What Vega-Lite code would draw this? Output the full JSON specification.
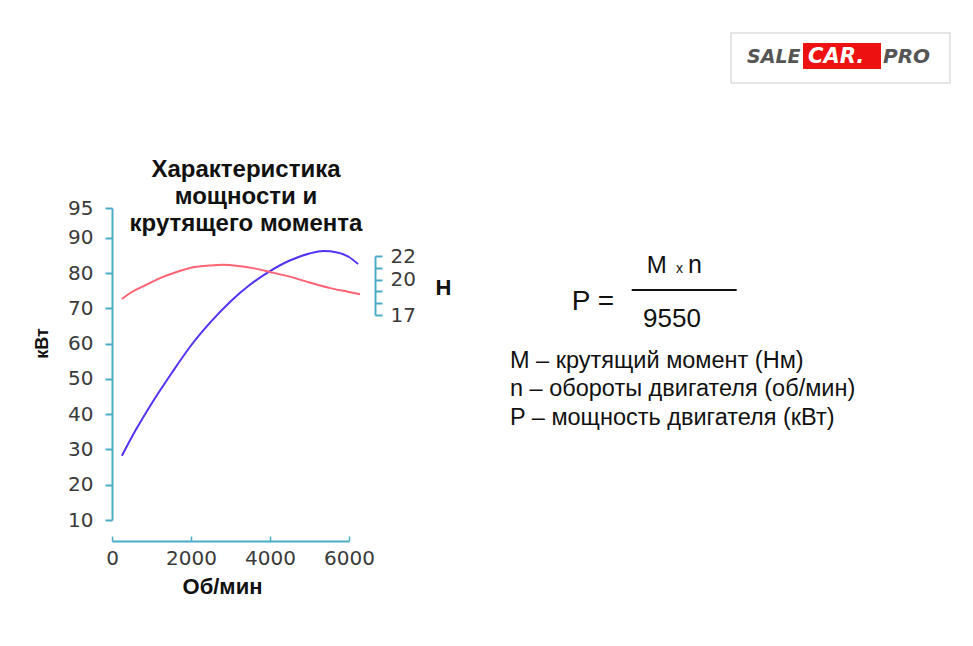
{
  "$schema": "https://vega.github.io/schema/vega-lite/v6.json",
  "width": 237,
  "height": 312,
  "autosize": "none",
  "padding": {"left": 112, "top": 208, "right": 624, "bottom": 126},
  "background": "white",
  "config": {"view": {"stroke": null}},
  "datasets": {
    "power": [
      {"rpm": 250, "kw": 28.2},
      {"rpm": 600, "kw": 35.5},
      {"rpm": 1000, "kw": 43.0},
      {"rpm": 1500, "kw": 51.5},
      {"rpm": 2000, "kw": 59.5},
      {"rpm": 2500, "kw": 66.2},
      {"rpm": 3000, "kw": 72.0},
      {"rpm": 3500, "kw": 76.8},
      {"rpm": 4000, "kw": 80.6},
      {"rpm": 4500, "kw": 83.6},
      {"rpm": 5000, "kw": 85.6},
      {"rpm": 5350, "kw": 86.3},
      {"rpm": 5700, "kw": 85.9},
      {"rpm": 6000, "kw": 84.6},
      {"rpm": 6230, "kw": 82.6}
    ],
    "torque": [
      {"rpm": 250, "nm": 18.35},
      {"rpm": 500, "nm": 18.95},
      {"rpm": 800, "nm": 19.45},
      {"rpm": 1200, "nm": 20.1},
      {"rpm": 1600, "nm": 20.6},
      {"rpm": 2000, "nm": 21.0},
      {"rpm": 2500, "nm": 21.2},
      {"rpm": 2800, "nm": 21.25},
      {"rpm": 3200, "nm": 21.15},
      {"rpm": 3600, "nm": 20.95},
      {"rpm": 4000, "nm": 20.65},
      {"rpm": 4500, "nm": 20.25},
      {"rpm": 5000, "nm": 19.75},
      {"rpm": 5500, "nm": 19.3},
      {"rpm": 6000, "nm": 18.95},
      {"rpm": 6280, "nm": 18.75}
    ],
    "one": [{}]
  },
  "layer": [
    {
      "layer": [
        {
          "data": {"name": "power"},
          "mark": {"type": "line", "color": "#5232f5", "strokeWidth": 2, "interpolate": "monotone"},
          "encoding": {
            "x": {
              "field": "rpm", "type": "quantitative",
              "scale": {"domain": [0, 6000], "nice": false, "zero": false},
              "axis": {
                "title": "Об/мин",
                "values": [0, 2000, 4000, 6000],
                "format": "d",
                "labelOverlap": false,
                "labelFlush": false,
                "labelBound": false,
                "grid": false,
                "offset": 21,
                "domainColor": "#4BACC6", "domainWidth": 2,
                "tickColor": "#4BACC6", "tickWidth": 1.5, "tickSize": -5,
                "labelFont": "DejaVu Sans", "labelFontSize": 20, "labelColor": "#3a3a3a",
                "labelPadding": 12,
                "titleFont": "Liberation Sans", "titleFontSize": 22, "titleFontWeight": "bold", "titleColor": "#111111",
                "titleX": 110, "titleY": 45, "titleBaseline": "middle", "titleAlign": "center"
              }
            },
            "y": {
              "field": "kw", "type": "quantitative",
              "scale": {"domain": [10, 98.5], "nice": false, "zero": false},
              "axis": {
                "title": "кВт",
                "values": [10, 20, 30, 40, 50, 60, 70, 80, 90, 98.5],
                "labelExpr": "datum.value > 95 ? '95' : format(datum.value, 'd')",
                "labelOverlap": false,
                "labelFlush": false,
                "labelBound": false,
                "grid": false,
                "domainColor": "#4BACC6", "domainWidth": 2,
                "tickColor": "#4BACC6", "tickWidth": 2, "tickSize": 7,
                "labelFont": "DejaVu Sans", "labelFontSize": 20, "labelColor": "#3a3a3a",
                "labelPadding": 12,
                "titleFont": "Liberation Sans", "titleFontSize": 18, "titleFontWeight": "bold", "titleColor": "#111111",
                "titleX": -70, "titleY": 135, "titleBaseline": "middle", "titleAlign": "center"
              }
            }
          }
        },
        {
          "data": {"name": "one"},
          "mark": {"type": "text", "align": "center", "baseline": "alphabetic", "font": "Liberation Sans", "fontSize": 24, "fontWeight": "bold", "lineHeight": 27, "color": "#111111"},
          "encoding": {
            "x": {"datum": 3392, "type": "quantitative"},
            "y": {"datum": 107.38, "type": "quantitative", "axis": {"values": [10, 20, 30, 40, 50, 60, 70, 80, 90, 98.5]}},
            "text": {"value": ["Характеристика", "мощности и", "крутящего момента"]}
          }
        },
        {
          "data": {"name": "one"},
          "mark": {"type": "rule", "color": "#111111", "strokeWidth": 2},
          "encoding": {
            "x": {"datum": 13157, "type": "quantitative"},
            "x2": {"datum": 15815},
            "y": {"datum": 75.24, "type": "quantitative", "axis": {"values": [10, 20, 30, 40, 50, 60, 70, 80, 90, 98.5]}}
          }
        },
        {
          "data": {"name": "one"},
          "mark": {"type": "text", "align": "left", "baseline": "alphabetic", "font": "Liberation Sans", "fontSize": 28, "color": "#111111"},
          "encoding": {
            "x": {"datum": 11638, "type": "quantitative"},
            "y": {"datum": 69.57, "type": "quantitative", "axis": {"values": [10, 20, 30, 40, 50, 60, 70, 80, 90, 98.5]}},
            "text": {"value": "P ="}
          }
        },
        {
          "data": {"name": "one"},
          "mark": {"type": "text", "align": "left", "baseline": "alphabetic", "font": "Liberation Sans", "fontSize": 24, "color": "#111111"},
          "encoding": {
            "x": {"datum": 13537, "type": "quantitative"},
            "y": {"datum": 79.98, "type": "quantitative", "axis": {"values": [10, 20, 30, 40, 50, 60, 70, 80, 90, 98.5]}},
            "text": {"value": "M"}
          }
        },
        {
          "data": {"name": "one"},
          "mark": {"type": "text", "align": "left", "baseline": "alphabetic", "font": "Liberation Sans", "fontSize": 14, "color": "#111111"},
          "encoding": {
            "x": {"datum": 14278, "type": "quantitative"},
            "y": {"datum": 79.98, "type": "quantitative", "axis": {"values": [10, 20, 30, 40, 50, 60, 70, 80, 90, 98.5]}},
            "text": {"value": "x"}
          }
        },
        {
          "data": {"name": "one"},
          "mark": {"type": "text", "align": "left", "baseline": "alphabetic", "font": "Liberation Sans", "fontSize": 25, "color": "#111111"},
          "encoding": {
            "x": {"datum": 14582, "type": "quantitative"},
            "y": {"datum": 79.98, "type": "quantitative", "axis": {"values": [10, 20, 30, 40, 50, 60, 70, 80, 90, 98.5]}},
            "text": {"value": "n"}
          }
        },
        {
          "data": {"name": "one"},
          "mark": {"type": "text", "align": "left", "baseline": "alphabetic", "font": "Liberation Sans", "fontSize": 26, "color": "#111111"},
          "encoding": {
            "x": {"datum": 13443, "type": "quantitative"},
            "y": {"datum": 64.83, "type": "quantitative", "axis": {"values": [10, 20, 30, 40, 50, 60, 70, 80, 90, 98.5]}},
            "text": {"value": "9550"}
          }
        },
        {
          "data": {"name": "one"},
          "mark": {"type": "text", "align": "left", "baseline": "alphabetic", "font": "Liberation Sans", "fontSize": 23.5, "lineHeight": 28.5, "color": "#111111"},
          "encoding": {
            "x": {"datum": 10076, "type": "quantitative"},
            "y": {"datum": 53.12, "type": "quantitative", "axis": {"values": [10, 20, 30, 40, 50, 60, 70, 80, 90, 98.5]}},
            "text": {"value": ["M – крутящий момент (Нм)", "n – обороты двигателя (об/мин)", "P – мощность двигателя (кВт)"]}
          }
        },
        {
          "data": {"name": "one"},
          "mark": {"type": "rect", "fill": "white", "stroke": "#dddddd", "strokeWidth": 1.5},
          "encoding": {
            "x": {"datum": 15671, "type": "quantitative"},
            "x2": {"datum": 21215},
            "y": {"datum": 148.14, "type": "quantitative", "axis": {"values": [10, 20, 30, 40, 50, 60, 70, 80, 90, 98.5]}},
            "y2": {"datum": 133.96}
          }
        },
        {
          "data": {"name": "one"},
          "mark": {"type": "rect", "fill": "#ee1111"},
          "encoding": {
            "x": {"datum": 17494, "type": "quantitative"},
            "x2": {"datum": 19468},
            "y": {"datum": 145.3, "type": "quantitative", "axis": {"values": [10, 20, 30, 40, 50, 60, 70, 80, 90, 98.5]}},
            "y2": {"datum": 137.93}
          }
        },
        {
          "data": {"name": "one"},
          "mark": {"type": "text", "align": "left", "baseline": "alphabetic", "font": "DejaVu Sans", "fontSize": 19, "fontWeight": "bold", "fontStyle": "italic", "color": "#555555"},
          "encoding": {
            "x": {"datum": 16076, "type": "quantitative"},
            "y": {"datum": 139.55, "type": "quantitative", "axis": {"values": [10, 20, 30, 40, 50, 60, 70, 80, 90, 98.5]}},
            "text": {"value": "SALE"}
          }
        },
        {
          "data": {"name": "one"},
          "mark": {"type": "text", "align": "left", "baseline": "alphabetic", "font": "DejaVu Sans", "fontSize": 21, "fontWeight": "bold", "fontStyle": "italic", "color": "white"},
          "encoding": {
            "x": {"datum": 17620, "type": "quantitative"},
            "y": {"datum": 139.55, "type": "quantitative", "axis": {"values": [10, 20, 30, 40, 50, 60, 70, 80, 90, 98.5]}},
            "text": {"value": "CAR."}
          }
        },
        {
          "data": {"name": "one"},
          "mark": {"type": "text", "align": "left", "baseline": "alphabetic", "font": "DejaVu Sans", "fontSize": 20, "fontWeight": "bold", "fontStyle": "italic", "color": "#555555"},
          "encoding": {
            "x": {"datum": 19519, "type": "quantitative"},
            "y": {"datum": 139.55, "type": "quantitative", "axis": {"values": [10, 20, 30, 40, 50, 60, 70, 80, 90, 98.5]}},
            "text": {"value": "PRO"}
          }
        }
      ]
    },
    {
      "data": {"name": "torque"},
      "mark": {"type": "line", "color": "#ff6272", "strokeWidth": 2, "interpolate": "monotone"},
      "encoding": {
        "x": {"field": "rpm", "type": "quantitative"},
        "y": {
          "field": "nm", "type": "quantitative",
          "scale": {"domain": [17, 22], "range": [107, 48], "nice": false, "zero": false},
          "axis": {
            "orient": "right",
            "title": "H",
            "offset": 26,
            "values": [17, 18, 19, 20, 21, 22],
            "labelExpr": "datum.value == 17 || datum.value == 20 || datum.value == 22 ? datum.label : ''",
            "labelOverlap": false,
            "labelFlush": false,
            "labelBound": false,
            "grid": false,
            "domainColor": "#4BACC6", "domainWidth": 2,
            "tickColor": "#4BACC6", "tickWidth": 2, "tickSize": 7,
            "labelFont": "DejaVu Sans", "labelFontSize": 20, "labelColor": "#3a3a3a",
            "labelPadding": 8,
            "titleFont": "Liberation Sans", "titleFontSize": 22, "titleFontWeight": "bold", "titleColor": "#111111",
            "titleAngle": 0, "titleX": 60, "titleY": 79, "titleBaseline": "middle", "titleAlign": "left"
          }
        }
      }
    }
  ],
  "resolve": {"scale": {"y": "independent"}, "axis": {"y": "independent"}}
}
